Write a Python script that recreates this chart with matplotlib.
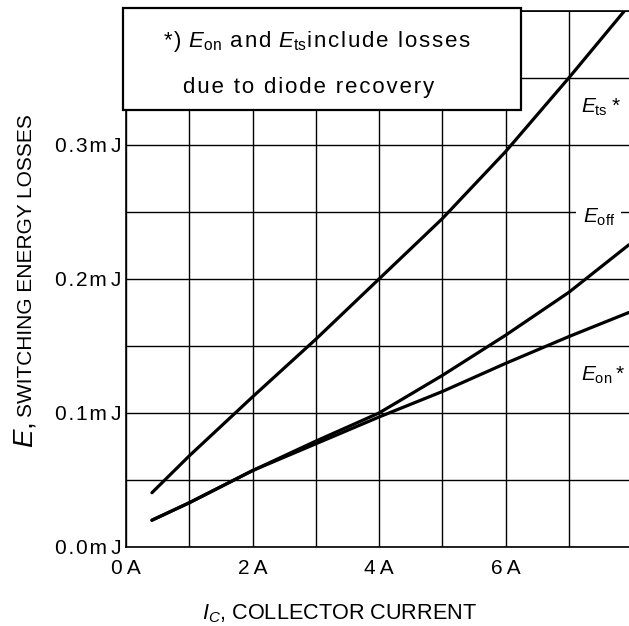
import matplotlib
matplotlib.use("Agg")
import matplotlib.pyplot as plt
from matplotlib.patches import Rectangle

plt.rcParams['font.family'] = ['Liberation Sans', 'DejaVu Sans']
plt.rcParams['mathtext.fontset'] = 'custom'
plt.rcParams['mathtext.rm'] = 'Liberation Sans'
plt.rcParams['mathtext.it'] = 'Liberation Sans:italic'

# collector current (A) and switching energy (mJ)
ic = [0.41, 1, 2, 3, 4, 5, 6, 7, 7.95]
e_ts = [0.0405, 0.068, 0.112, 0.155, 0.200, 0.245, 0.295, 0.350, 0.404]
e_off = [0.020, 0.033, 0.057, 0.079, 0.100, 0.128, 0.158, 0.190, 0.2255]
e_on = [0.020, 0.033, 0.057, 0.077, 0.097, 0.116, 0.137, 0.157, 0.175]

xticks = [0, 2, 4, 6]
xticklabels = ['0A', '2A', '4A', '6A']
yticks = [0.0, 0.1, 0.2, 0.3]
yticklabels = ['0.0mJ', '0.1mJ', '0.2mJ', '0.3mJ']

THIN = '\u2009'
HAIR = '\u200a'


def spaced(s, sep):
    # the original print has loose letter spacing
    return sep.join(s)


fig = plt.figure(figsize=(6.29, 6.26), dpi=100)
# right edge of the plot runs just past the picture, as in the original
ax = fig.add_axes([126 / 629, 79 / 626, 506 / 629, 536 / 626])
ax.set_xlim(0, 8)
ax.set_ylim(0, 0.4)

ax.set_xticks(xticks)
ax.set_xticklabels([spaced(t, THIN) for t in xticklabels])
ax.set_xticks([1, 3, 5, 7], minor=True)
ax.set_yticks(yticks)
ax.set_yticklabels([spaced(t[:-1], HAIR) + THIN + t[-1] for t in yticklabels])
ax.set_yticks([0.05, 0.15, 0.25, 0.35], minor=True)
ax.tick_params(which='both', length=0, labelsize=15)
ax.tick_params(axis='x', pad=8.5)
ax.tick_params(axis='y', pad=3)
ax.grid(which='both', color='black', linewidth=1.0)
ax.axhline(0.4, color='black', linewidth=1.2)
for s in ax.spines.values():
    s.set_linewidth(1.2)

ax.plot(ic, e_ts, color='black', linewidth=2.3, solid_capstyle='round')
ax.plot(ic, e_off, color='black', linewidth=2.3, solid_capstyle='round')
ax.plot(ic, e_on, color='black', linewidth=2.3, solid_capstyle='round')

ax.text(7.19, 0.3243, r'$E_{\rm ts}$' + THIN + '*', fontsize=15, ha='left', va='baseline')
ax.text(7.22, 0.242, r'$E_{\rm off}$', fontsize=15, ha='left', va='baseline',
        bbox=dict(facecolor='white', edgecolor='none', pad=4.5))
ax.text(7.19, 0.1243, r'$E_{\rm on}$' + THIN + '*', fontsize=15, ha='left', va='baseline')

ax.add_patch(Rectangle((-0.006, 0.815), 0.787, 0.19, transform=ax.transAxes,
                       facecolor='white', edgecolor='black', linewidth=1.6,
                       clip_on=False, zorder=5))
line1 = (spaced('*)', HAIR) + ' ' + HAIR + r'$E_{\rm on}$' + HAIR + ' ' + spaced('and', HAIR)
         + ' ' + HAIR + r'$E_{\rm ts}$' + spaced('include losses', HAIR))
ax.text(0.073, 0.933, line1, transform=ax.transAxes, fontsize=16,
        ha='left', va='baseline', zorder=6)
ax.text(0.112, 0.847, spaced('due to diode recovery', HAIR), transform=ax.transAxes,
        fontsize=16, ha='left', va='baseline', zorder=6)

# axis titles
fig.text(340 / 629, 7 / 626, r'$I_C$, COLLECTOR CURRENT', fontsize=15.6,
         ha='center', va='baseline')
fig.text(32 / 629, (626 - 448) / 626, r'$E$,', fontsize=20, rotation=90,
         rotation_mode='anchor', ha='left', va='baseline')
fig.text(32 / 629, (626 - 417) / 626, 'SWITCHING ENERGY LOSSES', fontsize=15,
         rotation=90, rotation_mode='anchor', ha='left', va='baseline')

fig.savefig('out.png', dpi=100)
